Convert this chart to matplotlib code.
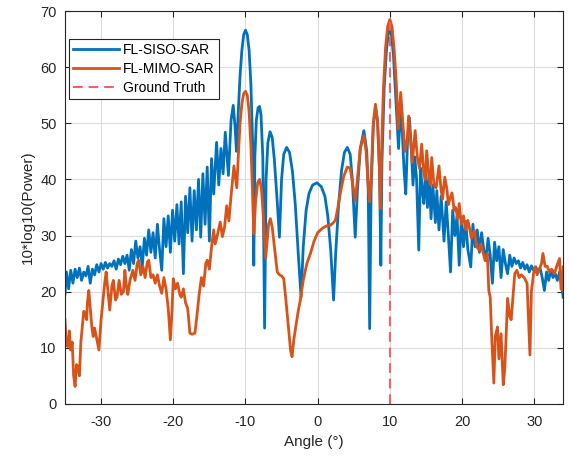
import matplotlib.pyplot as plt

plt.rcParams['font.family'] = ['Liberation Sans', 'DejaVu Sans']
plt.rcParams['axes.unicode_minus'] = False

# FL-SISO-SAR (angle in degrees, power in dB)
siso_angle = [-35.0, -34.8, -34.5, -34.2, -33.9, -33.6, -33.3, -33.0, -32.7, -32.4, -32.1, -31.8,
              -31.5, -31.2, -30.9, -30.6, -30.3, -30.0, -29.7, -29.4, -29.1, -28.8, -28.5, -28.2,
              -27.9, -27.6, -27.3, -27.0, -26.7, -26.4, -26.1, -25.8, -25.5, -25.2, -24.9, -24.6,
              -24.3, -24.0, -23.7, -23.4, -23.1, -22.8, -22.5, -22.2, -21.9, -21.6, -21.3, -21.0,
              -20.7, -20.4, -20.1, -19.8, -19.5, -19.2, -18.9, -18.6, -18.3, -18.0, -17.7, -17.4,
              -17.1, -16.8, -16.5, -16.2, -15.9, -15.6, -15.3, -15.0, -14.7, -14.4, -14.0, -13.7,
              -13.4, -13.1, -12.8, -12.36, -12.0, -11.7, -11.45, -11.25, -11.0, -10.75, -10.5, -10.25,
              -10.0, -9.75, -9.5, -9.25, -9.0, -8.85, -8.7, -8.5, -8.25, -8.05, -7.85, -7.6,
              -7.35, -7.15, -6.9, -6.6, -6.3, -6.0, -5.6, -5.3, -5.0, -4.7, -4.3, -3.9,
              -3.5, -3.1, -2.7, -2.3, -2.0, -1.6, -1.2, -0.7, -0.1, 0.5, 1.0, 1.4,
              1.8, 2.2, 2.5, 2.9, 3.3, 3.7, 4.1, 4.5, 4.8, 5.2, 5.5, 5.9,
              6.4, 6.8, 7.0, 7.2, 7.4, 7.7, 8.0, 8.3, 8.55, 8.75, 8.9, 9.2,
              9.5, 9.75, 10.0, 10.25, 10.5, 10.75, 11.0, 11.2, 11.45, 11.7, 11.95, 12.2,
              12.45, 12.7, 12.95, 13.2, 13.45, 13.7, 14.0, 14.25, 14.5, 14.7, 14.95, 15.2,
              15.45, 15.7, 15.95, 16.3, 16.5, 16.8, 17.1, 17.5, 17.8, 18.1, 18.4, 18.7,
              19.0, 19.3, 19.6, 19.9, 20.2, 20.5, 20.8, 21.2, 21.5, 21.8, 22.1, 22.4,
              22.7, 23.0, 23.3, 23.6, 23.9, 24.2, 24.5, 24.8, 25.1, 25.4, 25.7, 26.0,
              26.3, 26.6, 26.9, 27.2, 27.5, 27.8, 28.1, 28.4, 28.7, 29.0, 29.3, 29.6,
              29.9, 30.2, 30.5, 30.8, 31.1, 31.4, 31.7, 32.0, 32.3, 32.6, 32.9, 33.2,
              33.5, 33.8, 34.0]
siso_power = [19.5, 23.5, 20.5, 23.8, 21.5, 24.0, 22.5, 24.2, 22.0, 23.5, 22.8, 24.5,
              21.5, 24.0, 23.0, 24.8, 23.5, 25.0, 24.0, 25.2, 24.2, 25.0, 24.5, 25.5,
              24.0, 25.8, 24.8, 26.3, 25.0, 26.5, 23.8, 27.5, 25.0, 29.0, 26.0, 28.0,
              24.4, 29.5, 26.5, 31.0, 27.0, 30.5, 26.0, 32.0, 27.5, 23.8, 33.0, 28.0,
              33.5, 27.0, 34.5, 29.0, 35.5, 28.5, 36.0, 23.2, 37.0, 30.5, 38.5, 29.0,
              38.0, 31.0, 40.0, 29.7, 41.0, 32.0, 42.2, 29.0, 43.7, 37.4, 46.6, 39.0,
              45.5, 41.0, 48.4, 40.7, 50.5, 53.2, 49.5, 45.0, 52.0, 58.5, 63.0, 65.8,
              66.6, 65.8, 63.0, 57.0, 46.0, 24.7, 44.0, 50.5, 52.8, 53.0, 51.5, 44.0,
              13.5, 40.0, 46.5, 48.5, 47.5, 43.5, 36.0, 29.7, 40.0, 44.5, 45.7, 44.8,
              41.5, 35.5, 27.0, 19.0, 28.0, 34.5, 37.5, 39.0, 39.4, 38.7, 37.0, 33.5,
              27.5, 18.5, 27.0, 35.5, 41.5, 44.8, 45.7, 44.5, 40.0, 29.7, 38.0, 45.5,
              48.7, 45.0, 38.0, 13.4, 38.0, 49.5, 52.8, 50.5, 42.0, 24.7, 43.0, 56.0,
              62.5, 65.8, 66.8, 65.5, 62.0, 56.0, 50.0, 45.5, 52.0, 49.0, 42.0, 37.4,
              47.0, 51.0, 46.0, 39.0, 44.0, 40.0, 27.4, 42.0, 38.0, 35.7, 41.5, 35.0,
              40.5, 33.0, 39.0, 32.3, 38.0, 31.0, 37.0, 29.0, 36.0, 30.0, 23.5, 34.5,
              30.0, 33.5, 24.7, 33.0, 28.0, 32.5, 27.5, 24.4, 32.0, 28.0, 31.0, 27.0,
              30.5, 27.5, 25.6, 29.5, 26.5, 21.5, 28.8, 25.5, 28.0, 22.5, 27.5, 25.0,
              23.2, 26.5, 24.5, 26.0, 25.0, 25.5, 24.2, 25.2, 24.0, 24.8, 23.5, 24.6,
              23.8, 24.4, 23.5, 24.2, 22.5, 20.2, 23.5, 22.0, 23.8, 22.5, 23.2, 22.0,
              23.5, 21.0, 19.0]

# FL-MIMO-SAR
mimo_angle = [-35.0, -34.8, -34.6, -34.4, -34.2, -34.0, -33.8, -33.6, -33.4, -33.2, -33.0, -32.8,
              -32.6, -32.4, -32.2, -32.0, -31.9, -31.7, -31.5, -31.3, -31.1, -30.9, -30.6, -30.3,
              -30.0, -29.7, -29.5, -29.3, -29.0, -28.8, -28.5, -28.3, -28.0, -27.8, -27.5, -27.2,
              -26.9, -26.7, -26.5, -26.3, -26.0, -25.6, -25.3, -25.0, -24.8, -24.5, -24.2, -23.9,
              -23.6, -23.4, -23.1, -22.8, -22.5, -22.2, -21.9, -21.6, -21.3, -21.0, -20.7, -20.4,
              -20.2, -20.0, -19.7, -19.4, -19.1, -18.9, -18.6, -18.3, -18.0, -17.7, -17.4, -17.0,
              -16.7, -16.4, -16.1, -15.8, -15.5, -15.3, -15.0, -14.7, -14.4, -14.2, -13.9, -13.5,
              -13.2, -12.9, -12.6, -12.3, -12.0, -11.6, -11.2, -11.0, -10.75, -10.5, -10.25, -10.0,
              -9.75, -9.5, -9.25, -9.0, -8.85, -8.6, -8.3, -8.05, -7.8, -7.5, -7.2, -7.0,
              -6.8, -6.55, -6.3, -6.0, -5.6, -5.3, -5.0, -4.7, -4.4, -4.0, -3.75, -3.55,
              -3.3, -3.0, -2.7, -2.4, -2.0, -1.5, -1.0, -0.5, 0.0, 0.4, 0.9, 1.4,
              1.75, 2.1, 2.45, 2.8, 3.2, 3.6, 4.1, 4.5, 4.8, 5.2, 5.5, 5.9,
              6.4, 6.7, 7.0, 7.2, 7.4, 7.7, 8.0, 8.3, 8.55, 8.7, 8.85, 9.1,
              9.4, 9.7, 10.0, 10.3, 10.6, 10.9, 11.15, 11.5, 11.8, 12.1, 12.4, 12.6,
              12.9, 13.1, 13.5, 13.8, 14.1, 14.4, 14.7, 14.9, 15.1, 15.4, 15.6, 15.8,
              16.1, 16.4, 16.8, 17.1, 17.3, 17.6, 17.9, 18.1, 18.3, 18.6, 18.9, 19.1,
              19.4, 19.6, 19.9, 20.2, 20.5, 20.8, 21.0, 21.3, 21.7, 22.0, 22.4, 22.6,
              22.9, 23.2, 23.5, 23.7, 23.9, 24.1, 24.4, 24.6, 24.9, 25.1, 25.4, 25.7,
              25.9, 26.1, 26.3, 26.6, 26.8, 27.1, 27.3, 27.6, 27.9, 28.2, 28.6, 29.0,
              29.2, 29.4, 29.6, 29.9, 30.1, 30.4, 30.7, 31.0, 31.2, 31.5, 31.8, 32.1,
              32.4, 32.8, 33.1, 33.5, 33.7, 33.9, 34.0]
mimo_power = [15.0, 10.5, 10.2, 13.0, 9.6, 11.0, 5.0, 3.1, 7.0, 6.6, 5.0, 11.0,
              13.7, 16.5, 16.1, 15.0, 18.0, 20.2, 17.0, 14.0, 12.0, 13.5, 11.5, 9.6,
              15.0, 19.0, 21.5, 23.5, 19.5, 16.7, 21.0, 22.0, 18.5, 19.0, 22.0, 19.5,
              20.0, 23.8, 21.0, 19.5, 22.0, 23.8, 22.0, 25.0, 25.6, 23.0, 24.5, 22.5,
              25.2, 25.6, 22.5, 23.0, 21.5, 23.0, 21.0, 19.7, 22.5, 20.5, 17.0, 11.4,
              16.0, 22.3, 20.5, 21.5, 19.5, 19.0, 20.5, 18.0, 17.0, 12.6, 12.4, 12.6,
              16.0, 19.7, 22.5, 21.0, 25.0, 25.6, 24.0, 28.0, 31.0, 28.5, 30.0, 32.4,
              29.8, 31.5, 35.3, 32.6, 37.0, 42.4, 38.5, 44.0, 50.0, 53.5, 55.3, 55.7,
              55.0, 52.0, 46.0, 37.0, 30.3, 36.0, 39.5, 40.0, 38.5, 33.0, 26.0, 29.0,
              32.0, 33.0, 31.5, 28.0, 23.5, 23.0, 22.8, 22.3, 18.5, 13.0, 9.5, 8.4,
              11.5, 14.0, 16.5, 18.5, 22.0, 25.0, 26.8, 29.0, 30.5, 31.0, 31.5, 31.8,
              31.8, 32.2, 32.7, 35.0, 38.0, 40.5, 42.2, 42.0, 39.5, 36.2, 40.0, 45.5,
              47.8, 45.0, 39.0, 36.0, 40.0, 50.0, 53.4, 50.0, 42.0, 34.8, 45.0, 56.0,
              63.5, 67.3, 68.5, 67.2, 63.0, 57.0, 49.0, 55.5, 50.0, 45.0, 47.0, 51.3,
              46.5, 43.0, 48.7, 44.0, 42.0, 46.3, 41.0, 40.0, 45.1, 40.5, 39.0, 43.9,
              39.0, 38.5, 42.4, 38.0, 36.5, 40.4, 38.3, 35.5, 36.5, 37.6, 34.5, 35.0,
              33.0, 35.7, 32.0, 33.5, 31.0, 32.7, 31.5, 29.5, 30.9, 28.0, 27.4, 28.5,
              27.0, 25.5, 26.8, 20.2, 19.0, 12.0, 3.7, 12.0, 13.7, 8.0, 12.5, 3.4,
              6.0, 12.0, 18.8, 15.6, 15.0, 20.0, 23.2, 23.8, 22.5, 23.0, 22.5, 21.5,
              15.0, 8.7, 20.0, 23.2, 24.4, 23.0, 24.0, 25.0, 26.8, 24.5, 24.5, 23.5,
              24.0, 23.2, 24.5, 25.9, 20.5, 20.2, 24.4]

truth_angle = [10, 10]
truth_power = [0, 68]

fig = plt.figure(figsize=(5.7, 4.61), dpi=100)
ax = fig.add_axes([0.114, 0.124, 0.874, 0.852])

ax.plot(siso_angle, siso_power, color='#0072BD', lw=2.0, label='FL-SISO-SAR')
ax.plot(mimo_angle, mimo_power, color='#D95319', lw=2.0, label='FL-MIMO-SAR')
ax.plot(truth_angle, truth_power, color='#FF5A5A', lw=1.4, ls=(0, (5, 3)), label='Ground Truth')

ax.set_xlim(-35, 34)
ax.set_ylim(0, 70)
ax.set_xticks([-30, -20, -10, 0, 10, 20, 30])
ax.set_yticks(range(0, 71, 10))
ax.grid(True, color='#dcdcdc', lw=0.8)
ax.set_axisbelow(True)
ax.tick_params(direction='in', top=True, right=True, labelsize=10.5, colors='#262626', length=4)
ax.tick_params(axis='x', pad=8)
ax.tick_params(axis='y', pad=6)
for s in ax.spines.values():
    s.set_color('#262626')
    s.set_linewidth(0.8)

ax.set_xlabel('Angle (°)', fontsize=11, color='#262626')
ax.set_ylabel('10*log10(Power)', fontsize=11, color='#262626')

leg = ax.legend(loc='upper left', bbox_to_anchor=(0.0, 0.94), fontsize=10, handlelength=3.3,
                labelspacing=0.35, handletextpad=0.3, borderpad=0.3, borderaxespad=0.3,
                fancybox=False, framealpha=1)
leg.get_frame().set_edgecolor('#262626')
leg.get_frame().set_linewidth(0.8)

fig.savefig('out.png', dpi=100)
